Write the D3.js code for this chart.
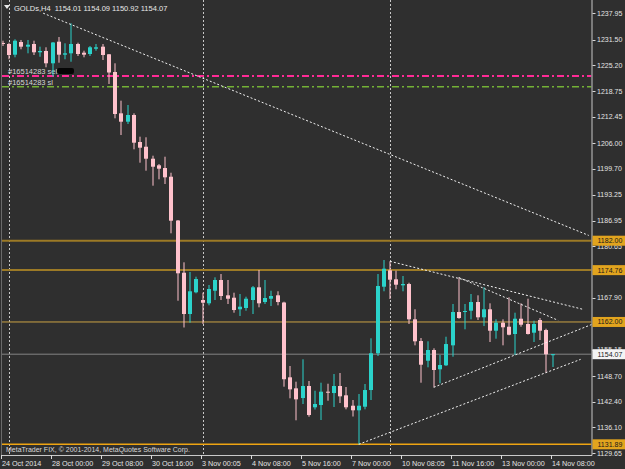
<!DOCTYPE html>
<html>
<head>
<meta charset="utf-8">
<script src="https://cdn.jsdelivr.net/npm/d3@7"></script>
<style>
  body { margin: 0; background: #2f2f2f; overflow: hidden }
  svg { display: block }
  text { font-family: 'Liberation Sans', Arial, sans-serif }
</style>
</head>
<body>
<svg id="chart" width="625" height="469"></svg>
<script>
/* ----------  DATA  ---------- */
const symbolTitle = 'GOLDs,H4'
const lastQuote = ['1154.01', '1154.09', '1150.92', '1154.07']

const opens = [1230.66, 1230.41, 1227.78, 1230.90, 1229.75, 1230.41, 1228.37, 1228.69, 1225.66, 1230.98,
  1227.78, 1228.12, 1230.41, 1228.27, 1227.95, 1229.25, 1229.75, 1227.88, 1223.52, 1213.35,
  1211.29, 1212.94, 1206.29, 1205.13, 1202.18, 1200.56, 1199.89, 1197.75, 1186.97, 1174.12,
  1163.96, 1169.30, 1167.40, 1166.59, 1169.69, 1172.33, 1168.56, 1167.97, 1165.12, 1165.44,
  1167.40, 1170.53, 1166.91, 1167.72, 1168.56, 1166.79, 1148.38, 1145.67, 1143.28, 1146.24,
  1141.00, 1141.56, 1144.84, 1144.51, 1146.24, 1143.95, 1141.39, 1140.26, 1141.14, 1145.25,
  1154.29, 1170.68, 1174.71, 1172.50, 1171.02, 1171.34, 1162.65, 1157.31, 1152.46, 1155.10,
  1150.35, 1151.33, 1156.25, 1164.45, 1164.45, 1164.77, 1166.91, 1163.15, 1165.12, 1159.85,
  1161.82, 1160.83, 1159.04, 1162.80, 1161.50, 1159.36, 1162.48, 1160.02, 1154.01]
const highs = [1231.22, 1230.73, 1231.57, 1231.40, 1231.40, 1231.22, 1229.75, 1229.60, 1230.90, 1232.13,
  1230.58, 1235.51, 1230.73, 1228.76, 1229.92, 1230.41, 1230.41, 1227.95, 1225.66, 1216.46,
  1215.40, 1213.35, 1207.60, 1207.45, 1202.92, 1200.88, 1202.67, 1198.73, 1187.09, 1176.68,
  1174.30, 1173.14, 1169.20, 1171.10, 1172.99, 1173.80, 1172.33, 1169.20, 1168.88, 1168.22,
  1170.85, 1174.79, 1172.33, 1169.69, 1169.55, 1166.99, 1151.16, 1147.30, 1152.81, 1147.47,
  1145.08, 1147.05, 1146.80, 1149.19, 1149.44, 1145.99, 1142.79, 1144.27, 1146.73, 1157.98,
  1173.80, 1177.25, 1176.93, 1174.62, 1173.31, 1171.66, 1165.12, 1158.05, 1157.24, 1155.52,
  1153.87, 1158.37, 1166.42, 1172.94, 1166.42, 1168.88, 1168.56, 1170.53, 1166.59, 1162.65,
  1162.65, 1168.07, 1164.28, 1166.59, 1167.72, 1162.31, 1162.97, 1160.34, 1154.09]
const lows = [1229.92, 1226.65, 1227.14, 1229.11, 1228.12, 1227.70, 1227.28, 1224.68, 1222.41, 1225.81,
  1226.65, 1226.05, 1227.46, 1227.14, 1227.46, 1228.76, 1226.47, 1220.57, 1212.12, 1208.01,
  1210.72, 1204.49, 1201.20, 1199.23, 1195.54, 1197.11, 1195.95, 1183.82, 1167.23, 1160.64,
  1161.82, 1169.05, 1161.50, 1166.10, 1167.40, 1167.40, 1166.42, 1164.28, 1163.47, 1164.77,
  1163.96, 1165.61, 1166.42, 1165.93, 1166.10, 1146.07, 1143.21, 1137.80, 1141.81, 1138.68,
  1140.45, 1137.87, 1142.62, 1141.07, 1142.05, 1140.50, 1138.73, 1131.89, 1140.50, 1142.79,
  1153.62, 1169.55, 1167.65, 1170.04, 1169.55, 1161.50, 1156.25, 1147.05, 1150.84, 1145.92,
  1146.90, 1151.16, 1153.45, 1162.80, 1160.19, 1162.65, 1162.48, 1161.00, 1157.07, 1157.88,
  1156.25, 1158.72, 1153.87, 1160.83, 1158.91, 1157.07, 1157.56, 1149.51, 1150.92]
const closes = [1230.41, 1227.70, 1231.22, 1229.75, 1230.24, 1228.37, 1228.69, 1225.66, 1230.78, 1227.78,
  1228.12, 1230.41, 1227.95, 1227.78, 1229.60, 1229.60, 1227.70, 1223.40, 1213.18, 1211.29,
  1212.94, 1206.12, 1204.89, 1202.18, 1200.21, 1199.72, 1197.60, 1186.92, 1173.98, 1163.96,
  1169.55, 1172.57, 1166.74, 1170.11, 1172.33, 1168.39, 1167.72, 1164.94, 1165.76, 1167.72,
  1170.53, 1166.59, 1167.90, 1168.39, 1166.91, 1147.91, 1145.42, 1142.96, 1146.24, 1139.10,
  1141.81, 1144.84, 1144.59, 1146.24, 1143.70, 1141.00, 1140.26, 1141.39, 1145.25, 1154.29,
  1170.85, 1175.11, 1172.40, 1171.17, 1171.34, 1162.65, 1157.24, 1151.48, 1155.10, 1150.18,
  1151.41, 1156.57, 1164.45, 1162.97, 1164.70, 1166.91, 1163.15, 1165.12, 1159.85, 1161.82,
  1160.69, 1158.86, 1162.80, 1161.32, 1159.04, 1161.50, 1159.85, 1154.05, 1154.07]

// time axis labels, one every 8 bars
const timeLabels = ['24 Oct 2014', '28 Oct 00:00', '29 Oct 08:00', '30 Oct 16:00', '3 Nov 00:05', '4 Nov 08:00',
  '5 Nov 16:00', '7 Nov 00:00', '10 Nov 08:05', '11 Nov 16:00', '13 Nov 00:00', '14 Nov 08:00']
const timeLabelBars = [0, 8, 16, 24, 32, 40, 48, 56, 64, 72, 80, 88]
const weekStartBars = [1, 32, 62]

// price scale labels (the ones fully hidden behind the price tags are left out)
const priceTicks = [1237.95, 1231.50, 1225.20, 1218.75, 1212.45, 1206.00, 1199.70, 1193.25, 1186.95,
  1180.65, 1167.90, 1155.15, 1148.70, 1142.40, 1136.10, 1129.65]

const levelPrices = [1182.00, 1174.76, 1162.00, 1131.89]
const bidPrice = 1154.07
const orderLabels = ['#16514283 sell', '#16514283 sl']
const orderPrices = [1222.53, 1219.90]

// trend lines: [bar, price, bar, price]
const trendLines = [
  [6.5, 1238.00, 93.8, 1183.30],
  [62, 1176.93, 92.9, 1165.10],
  [73, 1172.94, 88.9, 1162.40],
  [69, 1145.92, 94.3, 1161.40],
  [57, 1131.89, 92.5, 1152.80]
]

/* ----------  LAYOUT  ---------- */
const W = 625
const plotLeft = 2
const plotRight = 591.5
const plotTop = 0
const plotBottom = 455

const BULL = '#2bd3cb'
const BEAR = '#ffc2cc'
const GOLD = '#e2a41e'

const svg = d3.select('#chart')

svg.append('rect').attr('width', W).attr('height', 469).attr('fill', '#2f2f2f')

const x = d3.scaleLinear().domain([0, 94]).range([2.5, 590])
const y = d3.scaleLinear().domain([1129.26, 1241.24]).range([plotBottom, plotTop])

svg.append('clipPath').attr('id', 'plotClip')
  .append('rect')
  .attr('x', plotLeft).attr('y', plotTop)
  .attr('width', plotRight - plotLeft).attr('height', plotBottom - plotTop)

const plot = svg.append('g').attr('clip-path', 'url(#plotClip)')

/* ----------  GRID  ---------- */
plot.selectAll('.vgrid')
  .data(weekStartBars)
  .join('line')
  .attr('class', 'vgrid')
  .attr('x1', d => Math.round(x(d)) + 0.5)
  .attr('x2', d => Math.round(x(d)) + 0.5)
  .attr('y1', plotTop)
  .attr('y2', plotBottom)
  .attr('stroke', '#c8c8c8')
  .attr('stroke-dasharray', '2,2')

/* ----------  HORIZONTAL LEVELS  ---------- */
const levelStyle = [
  { c: '#9c7a26', w: 2 },
  { c: '#9c7a26', w: 2 },
  { c: '#caa244', w: 1 },
  { c: '#eea412', w: 1.5 }
]
plot.selectAll('.level')
  .data(levelPrices)
  .join('line')
  .attr('class', 'level')
  .attr('x1', plotLeft).attr('x2', plotRight)
  .attr('y1', d => y(d)).attr('y2', d => y(d))
  .attr('stroke', (d, i) => levelStyle[i].c)
  .attr('stroke-width', (d, i) => levelStyle[i].w)

plot.append('line')
  .attr('x1', plotLeft).attr('x2', plotRight)
  .attr('y1', y(bidPrice)).attr('y2', y(bidPrice))
  .attr('stroke', '#858585')

// order lines (sell / stop loss)
const orderColors = ['#ff2a96', '#74b236']
const orderWidths = [2.2, 1.4]
plot.selectAll('.order')
  .data(orderPrices)
  .join('line')
  .attr('class', 'order')
  .attr('x1', plotLeft).attr('x2', plotRight)
  .attr('y1', d => y(d)).attr('y2', d => y(d))
  .attr('stroke', (d, i) => orderColors[i])
  .attr('stroke-width', (d, i) => orderWidths[i])
  .attr('stroke-dasharray', '7,3,2,3')

plot.selectAll('.orderLabel')
  .data(orderPrices)
  .join('text')
  .attr('class', 'orderLabel')
  .attr('x', 8)
  .attr('y', d => y(d) - 2)
  .attr('fill', '#d6d6d6')
  .style('font-size', '7.5px')
  .text((d, i) => orderLabels[i])

// redacted scribble after the sell label
plot.append('rect')
  .attr('x', 57).attr('y', y(orderPrices[0]) - 8)
  .attr('width', 17).attr('height', 6)
  .attr('rx', 2)
  .attr('fill', '#050505')

/* ----------  CANDLES  ---------- */
const bars = d3.range(opens.length)

const candles = plot.selectAll('.candle')
  .data(bars)
  .join('g')
  .attr('class', 'candle')

candles.append('line')
  .attr('x1', i => Math.round(x(i)))
  .attr('x2', i => Math.round(x(i)))
  .attr('y1', i => y(highs[i]))
  .attr('y2', i => y(lows[i]))
  .attr('stroke', i => closes[i] >= opens[i] ? BULL : BEAR)
  .attr('stroke-width', 1)

candles.append('rect')
  .attr('x', i => Math.round(x(i)) - 2)
  .attr('width', 4)
  .attr('y', i => y(Math.max(opens[i], closes[i])))
  .attr('height', i => Math.max(1, Math.abs(y(opens[i]) - y(closes[i]))))
  .attr('fill', i => closes[i] >= opens[i] ? BULL : BEAR)

/* ----------  TREND LINES  ---------- */
plot.selectAll('.trend')
  .data(trendLines)
  .join('line')
  .attr('class', 'trend')
  .attr('x1', d => x(d[0])).attr('y1', d => y(d[1]))
  .attr('x2', d => x(d[2])).attr('y2', d => y(d[3]))
  .attr('stroke', '#f2f2f2')
  .attr('stroke-width', 1)
  .attr('stroke-dasharray', '2,2')

/* ----------  FRAME  ---------- */
svg.append('line')
  .attr('x1', 1.5).attr('x2', 1.5).attr('y1', 0).attr('y2', plotBottom)
  .attr('stroke', '#6a6a6a')
svg.append('line')
  .attr('x1', plotRight + 0.5).attr('x2', plotRight + 0.5).attr('y1', 0).attr('y2', plotBottom + 0.5)
  .attr('stroke', '#c8c8c8')
svg.append('line')
  .attr('x1', plotLeft).attr('x2', plotRight + 0.5).attr('y1', plotBottom + 0.5).attr('y2', plotBottom + 0.5)
  .attr('stroke', '#c8c8c8')

/* ----------  PRICE AXIS  ---------- */
const yAxis = svg.append('g')
yAxis.selectAll('.ptick')
  .data(priceTicks)
  .join('line')
  .attr('class', 'ptick')
  .attr('x1', plotRight + 1).attr('x2', plotRight + 4)
  .attr('y1', d => Math.round(y(d)) + 0.5).attr('y2', d => Math.round(y(d)) + 0.5)
  .attr('stroke', '#d8d8d8')
yAxis.selectAll('.plabel')
  .data(priceTicks)
  .join('text')
  .attr('class', 'plabel')
  .attr('x', 597)
  .attr('y', d => y(d) + 2.5)
  .attr('fill', '#e4e4e4')
  .style('font-size', '7px')
  .text(d => d.toFixed(2))

// price tags for level lines and bid
const tags = yAxis.selectAll('.tag')
  .data(levelPrices.concat([bidPrice]))
  .join('g')
  .attr('class', 'tag')
  .attr('transform', d => `translate(${plotRight + 1}, ${y(d)})`)
tags.append('rect')
  .attr('x', 0).attr('y', -5)
  .attr('width', 33).attr('height', 10)
  .attr('fill', d => d === bidPrice ? '#f4f4f4' : GOLD)
tags.append('text')
  .attr('x', 5).attr('y', 2.5)
  .attr('fill', '#1a1a1a')
  .style('font-size', '7px')
  .text(d => d.toFixed(2))

/* ----------  TIME AXIS  ---------- */
const xAxis = svg.append('g')
xAxis.selectAll('.ttick')
  .data(timeLabelBars)
  .join('line')
  .attr('class', 'ttick')
  .attr('x1', d => Math.floor(x(d)) - 0.5).attr('x2', d => Math.floor(x(d)) - 0.5)
  .attr('y1', plotBottom).attr('y2', plotBottom + 4)
  .attr('stroke', '#d8d8d8')
xAxis.selectAll('.tlabel')
  .data(timeLabelBars)
  .join('text')
  .attr('class', 'tlabel')
  .attr('x', d => x(d) - 0.5)
  .attr('y', 465.5)
  .attr('fill', '#e4e4e4')
  .style('font-size', '7.2px')
  .text((d, i) => timeLabels[i])

/* ----------  HEADER & FOOTER  ---------- */
svg.append('path')
  .attr('d', 'M4,5 L10,5 L7,9 Z')
  .attr('fill', '#e8e8e8')
svg.append('text')
  .attr('x', 14).attr('y', 10.5)
  .attr('fill', '#e8e8e8')
  .style('font-size', '7.5px')
  .attr('xml:space', 'preserve')
  .text(`${symbolTitle}  ${lastQuote.join(' ')}`)

svg.append('text')
  .attr('x', 6).attr('y', 452)
  .attr('fill', '#d8d8d8')
  .style('font-size', '7px')
  .text('MetaTrader FIX, © 2001-2014, MetaQuotes Software Corp.')
</script>
</body>
</html>
